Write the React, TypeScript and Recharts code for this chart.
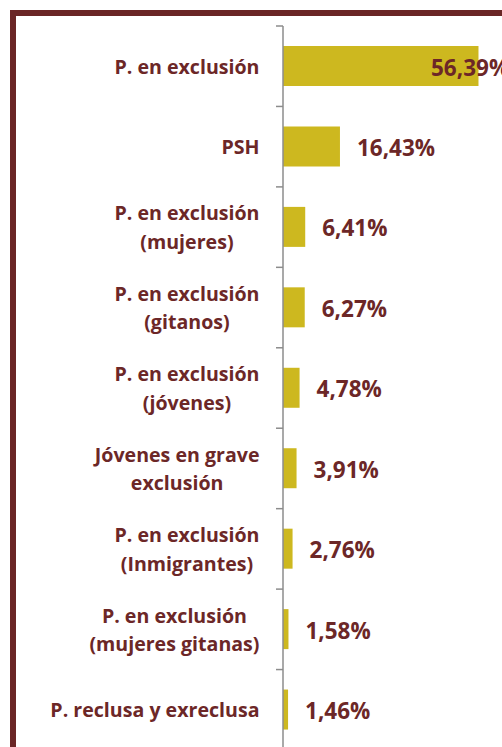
import React from 'react';
import { BarChart, Bar, XAxis, YAxis, LabelList } from 'recharts';

const categories = [
  'P. en exclusión',
  'PSH',
  'P. en exclusión\n(mujeres)',
  'P. en exclusión\n(gitanos)',
  'P. en exclusión\n(jóvenes)',
  'Jóvenes en grave\nexclusión',
  'P. en exclusión\n(Inmigrantes)',
  'P. en exclusión\n(mujeres gitanas)',
  'P. reclusa y exreclusa',
];
const values = [56.39, 16.43, 6.41, 6.27, 4.78, 3.91, 2.76, 1.58, 1.46];
const xDomain = [0, 60];

const data = categories.map((name, i) => ({ name, value: values[i] }));

const TEXT = '#6C2727';
const BAR = '#CDB81F';
const BORDER = '#6A2626';
const AXIS = '#8C8C8C';
const FONT = '"Open Sans", sans-serif';
const CAT_SIZE = 19.6;
const VAL_SIZE = 22.5;

const CHART_W = 520;
const CHART_H = 760;
const MARGIN = { top: 26, right: 29, bottom: 10, left: 0 };
const Y_AXIS_W = 283;
const PLOT_RIGHT = CHART_W - MARGIN.right;
const BAND = (CHART_H - MARGIN.top - MARGIN.bottom) / categories.length;

let ctx: CanvasRenderingContext2D | null = null;
function measure(text: string, size: number) {
  if (typeof document === 'undefined') return text.length * size * 0.55;
  if (!ctx) ctx = document.createElement('canvas').getContext('2d');
  if (!ctx) return text.length * size * 0.55;
  ctx.font = `bold ${size}px "Open Sans"`;
  return ctx.measureText(text).width;
}

const CatTick = (props: any) => {
  const { y, payload } = props;
  const lines = String(payload.value).split('\n');
  const lineH = 28.5;
  const widths = lines.map((l) => measure(l, CAT_SIZE));
  const maxW = Math.max(...widths);
  const right = Y_AXIS_W - 23.5;
  const cx = right - maxW / 2;
  const half = payload && typeof payload.offset === 'number' && payload.offset > 0 ? payload.offset : BAND / 2;
  const ty = y - half;
  return (
    <g>
      <line x1={Y_AXIS_W - 7} x2={Y_AXIS_W} y1={ty} y2={ty} stroke={AXIS} strokeWidth={1.5} />
      {lines.map((l, i) => (
        <text
          key={i}
          x={cx}
          y={y + (i - (lines.length - 1) / 2) * lineH}
          textAnchor="middle"
          dominantBaseline="central"
          fontFamily={FONT}
          fontWeight="bold"
          fontSize={CAT_SIZE}
          fill={TEXT}
        >
          {l}
        </text>
      ))}
    </g>
  );
};

const ValueLabel = (props: any) => {
  const { x, y, width, height, value } = props;
  const lx = Math.min(x + width + 17, PLOT_RIGHT - 60);
  const txt = Number(value).toFixed(2).replace('.', ',') + '%';
  return (
    <text
      x={lx}
      y={y + height / 2 + 1}
      textAnchor="start"
      dominantBaseline="central"
      fontFamily={FONT}
      fontWeight="bold"
      fontSize={VAL_SIZE}
      fill={TEXT}
    >
      {txt}
    </text>
  );
};

export default function App() {
  return (
    <div
      style={{
        position: 'fixed',
        left: 0,
        top: 0,
        width: 502,
        height: 747,
        overflow: 'hidden',
        background: '#fff',
      }}
    >
      <div
        style={{
          position: 'absolute',
          left: 10,
          top: 10,
          width: 1000,
          height: 1000,
          border: `6px solid ${BORDER}`,
          boxSizing: 'border-box',
        }}
      />
      <div style={{ position: 'absolute', left: 0, top: 0 }}>
        <BarChart width={CHART_W} height={CHART_H} data={data} layout="vertical" margin={MARGIN}>
          <XAxis type="number" domain={xDomain} hide />
          <YAxis
            type="category"
            dataKey="name"
            width={Y_AXIS_W}
            axisLine={{ stroke: AXIS, strokeWidth: 1.5 }}
            tickLine={false}
            tick={<CatTick />}
            interval={0}
          />
          <Bar dataKey="value" fill={BAR} barSize={40} isAnimationActive={false}>
            <LabelList dataKey="value" content={<ValueLabel />} />
          </Bar>
        </BarChart>
      </div>
    </div>
  );
}
